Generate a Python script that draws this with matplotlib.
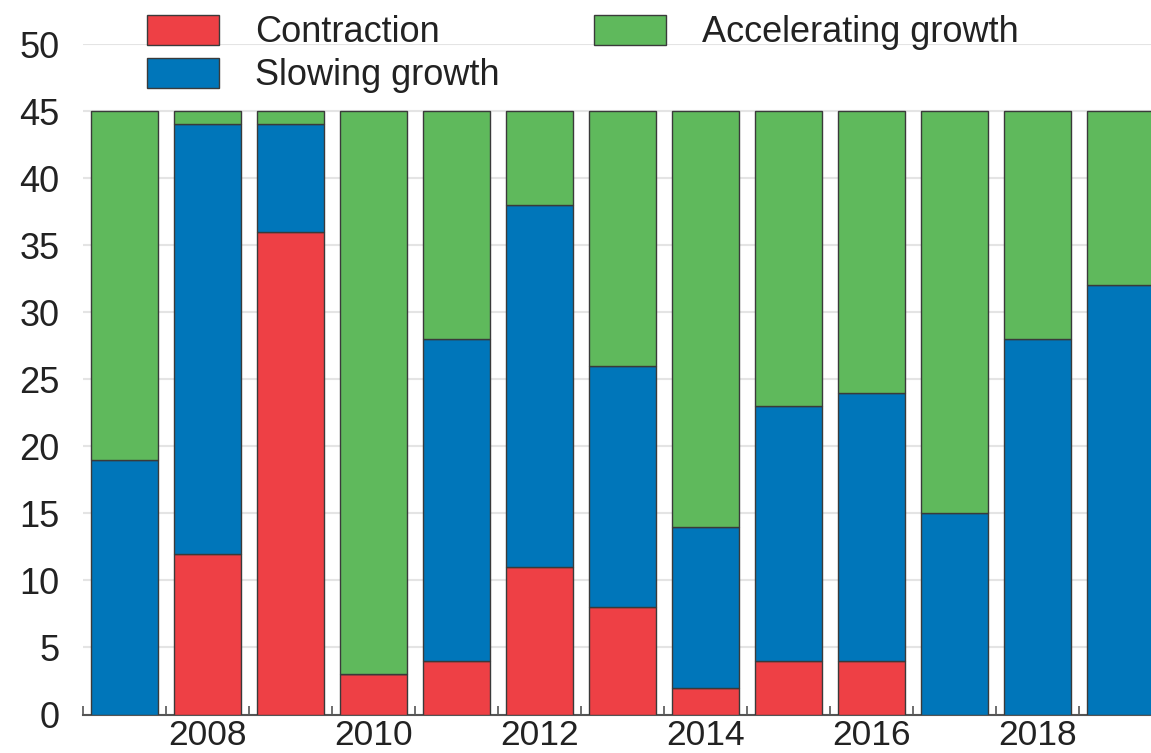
import matplotlib.pyplot as plt
import numpy as np
from matplotlib.ticker import FixedLocator

plt.rcParams['font.family'] = ['Liberation Sans', 'DejaVu Sans']

years = [2007, 2008, 2009, 2010, 2011, 2012, 2013, 2014, 2015, 2016, 2017, 2018, 2019]
contraction = [0, 12, 36, 3, 4, 11, 8, 2, 4, 4, 0, 0, 0]
slowing = [19, 32, 8, 0, 24, 27, 18, 12, 19, 20, 15, 28, 32]
accelerating = [26, 1, 1, 42, 17, 7, 19, 31, 22, 21, 30, 17, 13]

red = '#ee4045'
blue = '#0076ba'
green = '#5fb95c'
edge = '#3a3a3a'

fig = plt.figure(figsize=(11.51, 7.53), dpi=100)
ax = fig.add_axes([83 / 1151, 38.5 / 753, 1079 / 1151, 670.5 / 753])

x = np.array(years)
c = np.array(contraction)
s = np.array(slowing)
a = np.array(accelerating)

kw = dict(width=0.8, edgecolor=edge, linewidth=1.0, zorder=3)
ax.bar(x, c, color=red, label='Contraction', **kw)
ax.bar(x, s, bottom=c, color=blue, label='Slowing growth', **kw)
ax.bar(x, a, bottom=c + s, color=green, label='Accelerating growth', **kw)

ax.set_xlim(2006.5, 2019.5)
ax.set_ylim(0, 50)
ax.set_yticks(np.arange(0, 51, 5))
ax.yaxis.grid(True, color='#e4e4e4', linewidth=1.5, zorder=0)
ax.set_axisbelow(True)

ax.set_xticks([2008, 2010, 2012, 2014, 2016, 2018])
ax.xaxis.set_minor_locator(FixedLocator(np.arange(2006.5, 2020, 1)))
ax.tick_params(axis='x', which='major', length=0, labelsize=25.5, colors='#222222', pad=3)
ax.tick_params(axis='x', which='minor', direction='in', length=6.5, width=1.2, color='#555555')
ax.tick_params(axis='y', length=0, labelsize=26, colors='#222222', pad=17)

for sp in ['top', 'right', 'left']:
    ax.spines[sp].set_visible(False)
ax.spines['bottom'].set_color('#555555')
ax.spines['bottom'].set_linewidth(1.5)

leg = ax.legend(ncol=2, loc='upper left', bbox_to_anchor=(147 / 1151, 1 - 15 / 753),
                bbox_transform=fig.transFigure, frameon=False, fontsize=26,
                handlelength=2.0, handleheight=0.9, handletextpad=1.0,
                columnspacing=2.6, labelspacing=0.2, borderpad=0, borderaxespad=0)
for t in leg.get_texts():
    t.set_color('#222222')

fig.savefig('out.png', dpi=100)
